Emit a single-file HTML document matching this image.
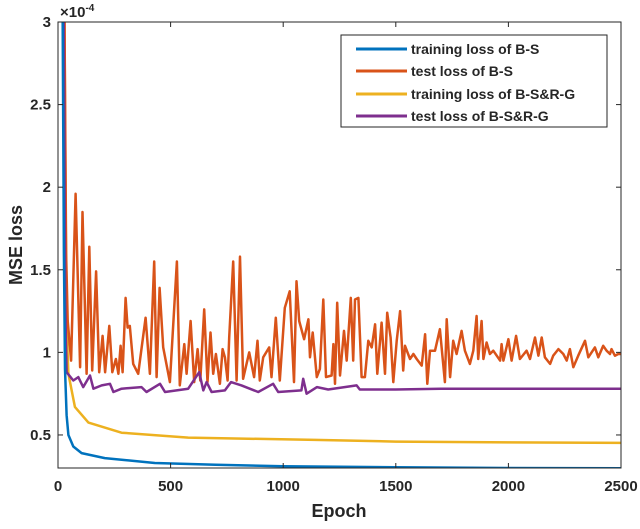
<!DOCTYPE html>
<html><head><meta charset="utf-8"><style>
body{margin:0;background:#fff}
svg text{font-family:"Liberation Sans",sans-serif;font-weight:bold;fill:#262626}
</style></head><body>
<svg id="chart" width="640" height="524" xmlns="http://www.w3.org/2000/svg">
<defs><clipPath id="clip"><rect x="58" y="22" width="563" height="446"/></clipPath></defs>
<rect x="58" y="22" width="563" height="446" fill="#fff"/>
<g id="series" clip-path="url(#clip)"></g>
<rect x="58" y="22" width="563" height="446" fill="none" stroke="#262626" stroke-width="1"/>
<g id="ticks"></g>
<text x="60" y="17" font-size="15" font-weight="normal">×10<tspan font-size="10" dy="-6">-4</tspan></text>
<text x="339" y="517" font-size="18" text-anchor="middle">Epoch</text>
<text transform="translate(22,245) rotate(-90)" font-size="18" text-anchor="middle">MSE loss</text>
<g>
<rect x="341" y="35" width="266" height="92" fill="#fff" stroke="#262626" stroke-width="1"/>
<line x1="356" y1="49" x2="407" y2="49" stroke="#0072BD" stroke-width="3"/>
<text x="411" y="54" font-size="14">training loss of B-S</text>
<line x1="356" y1="71" x2="407" y2="71" stroke="#D95319" stroke-width="3"/>
<text x="411" y="76" font-size="14">test loss of B-S</text>
<line x1="356" y1="94" x2="407" y2="94" stroke="#EDB120" stroke-width="3"/>
<text x="411" y="99" font-size="14">training loss of B-S&amp;R-G</text>
<line x1="356" y1="116" x2="407" y2="116" stroke="#7E2F8E" stroke-width="3"/>
<text x="411" y="121" font-size="14">test loss of B-S&amp;R-G</text>
</g>
</svg>
<script>
const xTicks=[0,500,1000,1500,2000,2500];
const yTicks=[0.5,1,1.5,2,2.5,3];
const yTickLabels=["0.5","1","1.5","2","2.5","3"];
const blueEpochs=[0,20,26,31,38,46,68,105,208,430,700,1000,1500,2000,2500];
const blueVals=[3.5,3.2,1.6,0.9,0.62,0.5,0.43,0.39,0.36,0.33,0.32,0.31,0.305,0.3,0.298];
const yellowEpochs=[0,28,34,40,46,75,135,282,578,1140,1500,2000,2500];
const yellowVals=[3.5,3.2,1.8,1.1,0.87,0.67,0.575,0.514,0.484,0.47,0.46,0.455,0.452];
const purpleEpochs=[0,25,32,38,68,90,112,142,157,194,231,246,282,371,393,453,475,578,627,645,660,682,741,768,815,889,955,978,1081,1089,1104,1150,1200,1326,1340,1500,1700,2000,2200,2500];
const purpleVals=[3.5,3.2,1.3,0.88,0.83,0.85,0.79,0.86,0.78,0.80,0.81,0.76,0.78,0.79,0.76,0.81,0.76,0.78,0.88,0.77,0.82,0.76,0.77,0.82,0.80,0.76,0.81,0.76,0.77,0.84,0.75,0.79,0.775,0.80,0.775,0.775,0.78,0.78,0.78,0.78];
const orangeEpochs=[0,28,36,43,58,78,98,109,127,139,152,169,183,198,209,228,241,257,268,278,287,300,309,319,334,356,389,408,427,438,451,467,497,528,541,561,571,589,605,620,632,649,664,677,689,701,719,731,741,753,760,778,793,808,822,849,871,886,896,911,938,948,967,985,1007,1029,1048,1059,1071,1093,1112,1119,1131,1149,1163,1178,1190,1215,1223,1230,1240,1252,1270,1282,1300,1311,1319,1334,1348,1363,1378,1393,1408,1418,1437,1452,1462,1477,1489,1504,1519,1533,1541,1563,1578,1593,1615,1630,1640,1652,1674,1696,1718,1726,1741,1755,1770,1792,1807,1829,1844,1859,1866,1881,1889,1903,1918,1933,1963,1970,1978,2000,2014,2034,2051,2081,2096,2118,2133,2148,2162,2185,2199,2222,2244,2259,2273,2288,2310,2340,2355,2384,2399,2421,2436,2451,2458,2473,2488,2500];
const orangeVals=[3.5,3.2,1.6,1.19,0.95,1.96,0.91,1.85,0.87,1.64,0.89,1.49,0.88,1.10,0.88,1.16,0.88,0.96,0.87,1.04,0.88,1.33,1.15,1.16,0.93,0.87,1.21,0.87,1.55,0.85,1.39,1.03,0.82,1.55,0.80,1.05,0.87,1.19,0.82,1.02,0.83,1.26,0.82,1.12,0.87,0.99,0.81,1.02,0.97,0.83,1.09,1.55,0.83,1.58,0.84,1.0,0.85,1.07,0.83,0.97,1.03,0.85,1.21,0.83,1.27,1.37,0.82,1.43,1.19,1.08,1.20,0.97,1.12,0.85,0.90,1.32,0.85,0.86,1.05,0.81,1.30,0.86,1.13,0.95,1.33,0.95,1.32,1.33,0.85,0.85,1.07,1.03,1.17,0.87,1.18,0.87,1.24,1.09,0.82,1.07,1.25,0.89,1.04,0.96,0.99,0.96,0.92,1.11,0.81,1.01,1.01,1.14,0.82,1.20,0.85,1.07,0.99,1.13,1.01,0.93,1.01,1.22,0.96,1.19,0.96,1.06,0.99,1.01,0.95,1.05,0.95,1.08,0.95,1.10,0.96,1.01,0.96,1.09,0.98,1.09,0.97,0.93,0.98,1.02,0.99,0.95,1.02,0.91,0.98,1.07,0.97,1.03,0.97,1.04,1.01,0.99,1.02,0.98,0.99,0.99];
const X0=58,X1=621,Y0=468,Y1=22,XMIN=0,XMAX=2500,YMIN=0.3,YMAX=3;
function sx(v){return X0+(v-XMIN)/(XMAX-XMIN)*(X1-X0);}
function sy(v){return Y0-(v-YMIN)/(YMAX-YMIN)*(Y0-Y1);}
const NS="http://www.w3.org/2000/svg";
const g=document.getElementById('series');
function draw(ex,vals,color,name){
  const p=document.createElementNS(NS,'path');
  p.setAttribute('d',ex.map((e,i)=>(i?'L':'M')+sx(e).toFixed(1)+','+sy(vals[i]).toFixed(1)).join(''));
  p.setAttribute('fill','none');p.setAttribute('stroke',color);p.setAttribute('stroke-width','2.5');p.setAttribute('stroke-linejoin','round');
  
  
  g.appendChild(p);
}
draw(yellowEpochs,yellowVals,'#EDB120','line-training-loss-bsrg');
draw(orangeEpochs,orangeVals,'#D95319','line-test-loss-bs');
draw(purpleEpochs,purpleVals,'#7E2F8E','line-test-loss-bsrg');
draw(blueEpochs,blueVals,'#0072BD','line-training-loss-bs');
const t=document.getElementById('ticks');
xTicks.forEach(v=>{
  const x=sx(v);
  [[Y0,Y0-5],[Y1,Y1+5]].forEach(([a,b])=>{const l=document.createElementNS(NS,'line');l.setAttribute('x1',x);l.setAttribute('x2',x);l.setAttribute('y1',a);l.setAttribute('y2',b);l.setAttribute('stroke','#262626');
  
  
  t.appendChild(l);});
  const tx=document.createElementNS(NS,'text');tx.setAttribute('x',x);tx.setAttribute('y',Y0+23);tx.setAttribute('font-size','15');tx.setAttribute('text-anchor','middle');tx.textContent=v;
  
  
  t.appendChild(tx);
});
yTicks.forEach((v,i)=>{
  const y=sy(v);
  [[X0,X0+5],[X1,X1-5]].forEach(([a,b])=>{const l=document.createElementNS(NS,'line');l.setAttribute('y1',y);l.setAttribute('y2',y);l.setAttribute('x1',a);l.setAttribute('x2',b);l.setAttribute('stroke','#262626');
  
  
  t.appendChild(l);});
  const tx=document.createElementNS(NS,'text');tx.setAttribute('x',X0-7);tx.setAttribute('y',y+5);tx.setAttribute('font-size','15');tx.setAttribute('text-anchor','end');tx.textContent=yTickLabels[i];
  
  
  t.appendChild(tx);
});
</script>
</body></html>
